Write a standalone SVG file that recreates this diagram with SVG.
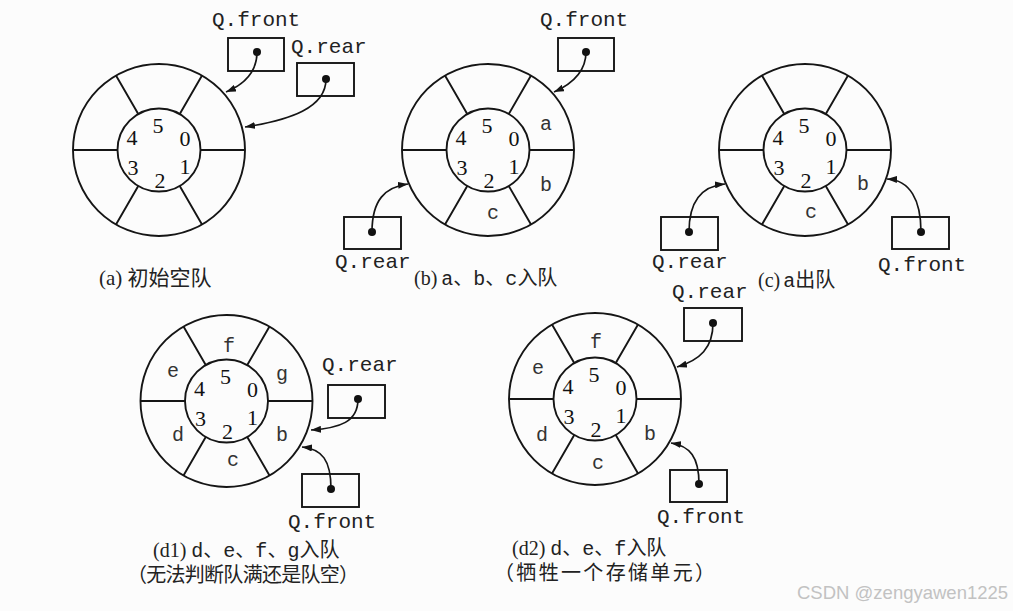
<svg xmlns="http://www.w3.org/2000/svg" xmlns:xlink="http://www.w3.org/1999/xlink" width="1013" height="611" viewBox="0 0 1013 611">
<style>
  .ln{fill:none;stroke:#151515;stroke-width:1.9}
  .box{fill:none;stroke:#151515;stroke-width:1.9}
  .dot{fill:#111}
  .con{fill:none;stroke:#151515;stroke-width:1.7}
  .lbl{font-family:"Liberation Mono",monospace;font-size:21px;fill:#222}
  .dig{font-family:"Liberation Serif",serif;font-size:22px;fill:#111;text-anchor:middle}
  .let{font-family:"Liberation Mono",monospace;font-size:20px;fill:#333;text-anchor:middle}
  .cap{font-family:"Liberation Serif","Noto Sans CJK SC",serif;font-size:20px;fill:#222}
  .m{font-family:"Liberation Mono","Noto Sans CJK SC",monospace}
  .wm{font-family:"Liberation Sans",sans-serif;font-size:18.5px;fill:#c2c2c2}
</style>
<defs>
  <g id="ring">
    <circle class="ln" r="86"/>
    <circle class="ln" r="41.5"/>
    <path class="ln" d="M41.5,0H86M-41.5,0H-86M20.75,-35.94L43,-74.48M-20.75,-35.94L-43,-74.48M20.75,35.94L43,74.48M-20.75,35.94L-43,74.48"/>
    <text class="dig" x="-1" y="-17">5</text>
    <text class="dig" x="26" y="-4">0</text>
    <text class="dig" x="-27" y="-5">4</text>
    <text class="dig" x="-26" y="25">3</text>
    <text class="dig" x="1" y="38">2</text>
    <text class="dig" x="26" y="24">1</text>
  </g>
  <marker id="ah" markerUnits="userSpaceOnUse" viewBox="0 0 10 7" markerWidth="10" markerHeight="7" refX="10" refY="3.5" orient="auto">
    <path d="M0,0L10,3.5L0,7z" fill="#151515"/>
  </marker>
</defs>
<rect width="1013" height="611" fill="#fcfcfc"/>

<!-- (a) -->
<g id="a-queue"><use xlink:href="#ring" href="#ring" x="159" y="150"/></g>
<g id="a-front"><rect class="box" x="228" y="38" width="56" height="33"/><circle class="dot" cx="257" cy="52" r="4"/><text class="lbl" x="212" y="26">Q.front</text></g>
<g id="a-rear"><rect class="box" x="297" y="63" width="57" height="33"/><circle class="dot" cx="326" cy="79" r="4"/><text class="lbl" x="291" y="53">Q.rear</text></g>
<text class="cap" x="99" y="285" style="font-size:21px">(a) 初始空队</text>

<!-- (b) -->
<g id="b-queue"><use xlink:href="#ring" href="#ring" x="488" y="150"/>
  <text class="let" x="546" y="130">a</text>
  <text class="let" x="546" y="191">b</text>
  <text class="let" x="493" y="219">c</text>
</g>
<g id="b-front"><rect class="box" x="558" y="38" width="56" height="33"/><circle class="dot" cx="586" cy="52" r="4"/><text class="lbl" x="540" y="26">Q.front</text></g>
<g id="b-rear"><rect class="box" x="344" y="217" width="57" height="32"/><circle class="dot" cx="372" cy="232" r="4"/><text class="lbl" x="335" y="268">Q.rear</text></g>
<text class="cap" x="414" y="285">(b)<tspan class="m" dx="4">a</tspan>、<tspan class="m">b</tspan>、<tspan class="m">c</tspan>入队</text>

<!-- (c) -->
<g id="c-queue"><use xlink:href="#ring" href="#ring" x="805" y="150"/>
  <text class="let" x="863" y="190">b</text>
  <text class="let" x="811" y="218">c</text>
</g>
<g id="c-rear"><rect class="box" x="661" y="217" width="57" height="33"/><circle class="dot" cx="689" cy="232" r="4"/><text class="lbl" x="652" y="268">Q.rear</text></g>
<g id="c-front"><rect class="box" x="892" y="217" width="57" height="32"/><circle class="dot" cx="921" cy="232" r="4"/><text class="lbl" x="878" y="271">Q.front</text></g>
<text class="cap" x="758" y="287">(c)<tspan class="m" dx="3">a</tspan>出队</text>

<!-- (d1) -->
<g id="d1-queue"><use xlink:href="#ring" href="#ring" x="226.5" y="401"/>
  <text class="let" x="229" y="352">f</text>
  <text class="let" x="282" y="380">g</text>
  <text class="let" x="173" y="377">e</text>
  <text class="let" x="178" y="441">d</text>
  <text class="let" x="282" y="441">b</text>
  <text class="let" x="233" y="466">c</text>
</g>
<g id="d1-rear"><rect class="box" x="328" y="385" width="57" height="33"/><circle class="dot" cx="358" cy="399" r="4"/><text class="lbl" x="322" y="371">Q.rear</text></g>
<g id="d1-front"><rect class="box" x="302" y="474" width="57" height="33"/><circle class="dot" cx="331" cy="489" r="4"/><text class="lbl" x="288" y="528">Q.front</text></g>
<text class="cap" x="153" y="557">(d1)<tspan class="m" dx="5">d</tspan>、<tspan class="m">e</tspan>、<tspan class="m">f</tspan>、<tspan class="m">g</tspan>入队</text>
<text class="cap" x="127" y="582" textLength="232" lengthAdjust="spacing">（无法判断队满还是队空）</text>

<!-- (d2) -->
<g id="d2-queue"><use xlink:href="#ring" href="#ring" x="595" y="399"/>
  <text class="let" x="596" y="348">f</text>
  <text class="let" x="538" y="374">e</text>
  <text class="let" x="542" y="441">d</text>
  <text class="let" x="650" y="440">b</text>
  <text class="let" x="598" y="469">c</text>
</g>
<g id="d2-rear"><rect class="box" x="684" y="308" width="58" height="33"/><circle class="dot" cx="713" cy="323" r="4"/><text class="lbl" x="672" y="298">Q.rear</text></g>
<g id="d2-front"><rect class="box" x="670" y="470" width="57" height="32"/><circle class="dot" cx="699" cy="484" r="4"/><text class="lbl" x="657" y="523">Q.front</text></g>
<text class="cap" x="512" y="555">(d2)<tspan class="m" dx="5">d</tspan>、<tspan class="m">e</tspan>、<tspan class="m">f</tspan>入队</text>
<text class="cap" x="494" y="580" textLength="221" lengthAdjust="spacing">（牺牲一个存储单元）</text>

<g id="connectors">
  <path class="con" marker-end="url(#ah)" d="M257,52C257,72 245,84 226,92"/>
  <path class="con" marker-end="url(#ah)" d="M326,79C326,108 290,120 245,127"/>
  <path class="con" marker-end="url(#ah)" d="M586,52C586,72 572,84 554,92"/>
  <path class="con" marker-end="url(#ah)" d="M372,232C372,200 385,187 408,184"/>
  <path class="con" marker-end="url(#ah)" d="M689,232C689,200 702,186 725,184"/>
  <path class="con" marker-end="url(#ah)" d="M921,232C921,200 910,180 887,179"/>
  <path class="con" marker-end="url(#ah)" d="M358,399C358,422 340,428 311,430"/>
  <path class="con" marker-end="url(#ah)" d="M331,489C331,460 322,449 302,447"/>
  <path class="con" marker-end="url(#ah)" d="M713,323C713,348 700,360 677,367"/>
  <path class="con" marker-end="url(#ah)" d="M699,484C699,457 690,446 671,443"/>
</g>

<text class="wm" x="797" y="599">CSDN @zengyawen1225</text>
</svg>
